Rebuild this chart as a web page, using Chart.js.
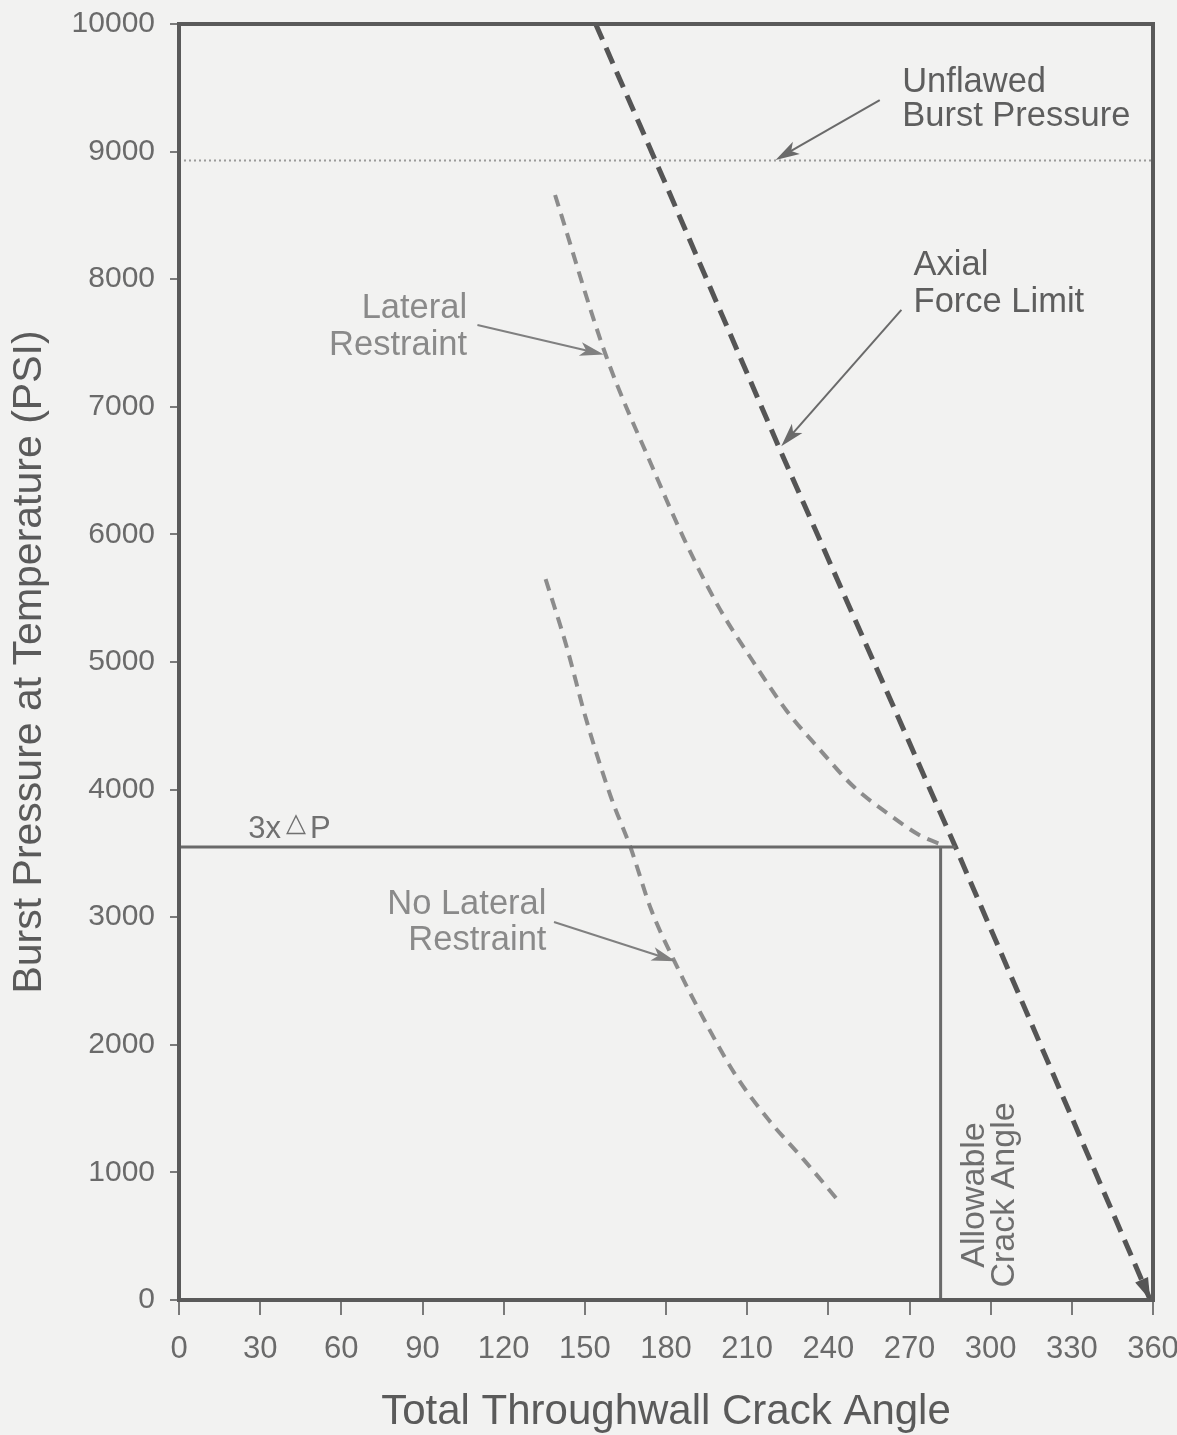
<!DOCTYPE html>
<html>
<head>
<meta charset="utf-8">
<script src="https://cdn.jsdelivr.net/npm/chart.js@4.4.0/dist/chart.umd.min.js"></script>
<style>
html,body{margin:0;padding:0;background:#f2f2f1;}
#wrap{width:1177px;height:1435px;}
canvas{display:block;}
</style>
</head>
<body>
<div id="wrap"><canvas id="c" width="1177" height="1435"></canvas></div>
<script>
// ---- data ----
const xTicks = [0, 30, 60, 90, 120, 150, 180, 210, 240, 270, 300, 330, 360];
const yTicks = [0, 1000, 2000, 3000, 4000, 5000, 6000, 7000, 8000, 9000, 10000];

const axialAngle    = [154, 180, 222, 287, 359];
const axialPressure = [10000, 8740, 6670, 3550, 0];

const lateralAngle    = [139, 158, 174.5, 187, 199.5, 212, 224.5, 237, 249, 261.5, 274, 283];
const lateralPressure = [8660, 7390, 6550, 5950, 5430, 5010, 4620, 4310, 4030, 3820, 3640, 3560];

const noLateralAngle    = [135.5, 143, 150.5, 159.5, 167, 174.5, 183, 193, 205.5, 218, 230.5, 244];
const noLateralPressure = [5650, 5140, 4550, 3950, 3540, 3060, 2660, 2240, 1770, 1410, 1110, 770];

const unflawedAngle    = [0, 360];
const unflawedPressure = [8930, 8930];

const deltaPAngle    = [0, 287];
const deltaPPressure = [3550, 3550];

const allowAngle    = [281.5, 281.5];
const allowPressure = [0, 3550];

const pts = (xs, ys) => xs.map((v, i) => ({x: v, y: ys[i]}));

const FONT = '"Liberation Sans", Arial, Helvetica, sans-serif';

// annotation texts and arrows (placed in data units)
const notes = [
  {lines: ['Unflawed', 'Burst Pressure'], x: 267.3, y: [9467, 9201], align: 'left', color: '#5e5e5e'},
  {lines: ['Axial', 'Force Limit'], x: 271.5, y: [8033, 7743], align: 'left', color: '#5e5e5e'},
  {lines: ['Lateral', 'Restraint'], x: 106.5, y: [7696, 7406], align: 'right', color: '#8a8a8a'},
  {lines: ['No Lateral', 'Restraint'], x: 135.8, y: [3025, 2743], align: 'right', color: '#8a8a8a'}
];
const arrows = [
  {from: [259, 9404], to: [220.5, 8935], color: '#6a6a6a'},
  {from: [267, 7759], to: [222.6, 6690], color: '#6a6a6a'},
  {from: [110.3, 7641], to: [157, 7410], color: '#808080'},
  {from: [138.6, 2962], to: [183.5, 2655], color: '#808080'}
];

function drawArrow(ctx, x1, y1, x2, y2, color) {
  const ang = Math.atan2(y2 - y1, x2 - x1);
  const L = 24, W = 7;
  ctx.strokeStyle = color; ctx.fillStyle = color; ctx.lineWidth = 2;
  ctx.beginPath(); ctx.moveTo(x1, y1);
  ctx.lineTo(x2 - Math.cos(ang) * L * 0.6, y2 - Math.sin(ang) * L * 0.6); ctx.stroke();
  ctx.beginPath();
  ctx.moveTo(x2, y2);
  ctx.lineTo(x2 - Math.cos(ang) * L + Math.sin(ang) * W, y2 - Math.sin(ang) * L - Math.cos(ang) * W);
  ctx.lineTo(x2 - Math.cos(ang) * L * 0.75, y2 - Math.sin(ang) * L * 0.75);
  ctx.lineTo(x2 - Math.cos(ang) * L - Math.sin(ang) * W, y2 - Math.sin(ang) * L + Math.cos(ang) * W);
  ctx.closePath(); ctx.fill();
}

const notesPlugin = {
  id: 'notes',
  afterDatasetsDraw(chart) {
    const {ctx, chartArea: a, scales: {x, y}} = chart;
    const X = v => x.getPixelForValue(v), Y = v => y.getPixelForValue(v);
    ctx.save();
    // frame
    ctx.strokeStyle = '#5a5a5a'; ctx.lineWidth = 4;
    ctx.strokeRect(a.left, a.top, a.right - a.left, a.bottom - a.top);

    // arrowhead at the end of the axial force line
    const n = axialAngle.length;
    const ex = X(axialAngle[n - 1]), ey = Y(axialPressure[n - 1]);
    const px = X(axialAngle[n - 2]), py = Y(axialPressure[n - 2]);
    const ang = Math.atan2(ey - py, ex - px);
    ctx.fillStyle = '#555';
    ctx.beginPath();
    ctx.moveTo(ex, ey);
    ctx.lineTo(ex - Math.cos(ang) * 22 + Math.sin(ang) * 7, ey - Math.sin(ang) * 22 - Math.cos(ang) * 7);
    ctx.lineTo(ex - Math.cos(ang) * 22 - Math.sin(ang) * 7, ey - Math.sin(ang) * 22 + Math.cos(ang) * 7);
    ctx.closePath(); ctx.fill();

    // arrows
    arrows.forEach(ar => drawArrow(ctx, X(ar.from[0]), Y(ar.from[1]), X(ar.to[0]), Y(ar.to[1]), ar.color));

    // texts
    ctx.font = '34.5px ' + FONT;
    ctx.textBaseline = 'alphabetic';
    notes.forEach(nt => {
      ctx.fillStyle = nt.color;
      ctx.textAlign = nt.align;
      nt.lines.forEach((t, i) => ctx.fillText(t, X(nt.x), Y(nt.y[i])));
    });

    // 3x delta P
    ctx.fillStyle = '#707070';
    ctx.textAlign = 'left';
    let tx = X(25.6); const ty = Y(3621);
    ctx.font = '31px ' + FONT;
    ctx.fillText('3x', tx, ty); tx += ctx.measureText('3x').width + 5;
    ctx.font = '26px ' + FONT;
    ctx.fillText('\u25B3', tx, ty - 7); tx += ctx.measureText('\u25B3').width + 4;
    ctx.font = '31px ' + FONT;
    ctx.fillText('P', tx, ty);

    // rotated "Allowable Crack Angle"
    ctx.fillStyle = '#6e6e6e';
    ctx.font = '34px ' + FONT;
    ctx.textAlign = 'center';
    [['Allowable', 297.5], ['Crack Angle', 308.8]].forEach(([t, ax]) => {
      ctx.save();
      ctx.translate(X(ax), Y(823));
      ctx.rotate(-Math.PI / 2);
      ctx.fillText(t, 0, 0);
      ctx.restore();
    });
    ctx.restore();
  }
};

const bgPlugin = {
  id: 'bg',
  beforeDraw(chart) {
    const c = chart.ctx;
    c.save(); c.fillStyle = '#f2f2f1'; c.fillRect(0, 0, chart.width, chart.height); c.restore();
  }
};

new Chart(document.getElementById('c'), {
  type: 'line',
  data: {
    datasets: [
      {data: pts(unflawedAngle, unflawedPressure), borderColor: '#9a9a9a', borderWidth: 2, borderDash: [2, 3]},
      {data: pts(deltaPAngle, deltaPPressure), borderColor: '#6a6a6a', borderWidth: 3},
      {data: pts(allowAngle, allowPressure), borderColor: '#6a6a6a', borderWidth: 3},
      {data: pts(noLateralAngle, noLateralPressure), borderColor: '#8c8c8c', borderWidth: 4, borderDash: [12, 8], cubicInterpolationMode: 'monotone'},
      {data: pts(lateralAngle, lateralPressure), borderColor: '#8c8c8c', borderWidth: 4, borderDash: [12, 8], cubicInterpolationMode: 'monotone'},
      {data: pts(axialAngle, axialPressure), borderColor: '#555555', borderWidth: 5, borderDash: [17, 9]}
    ]
  },
  options: {
    responsive: false,
    animation: false,
    devicePixelRatio: 1,
    layout: {padding: {left: 0, right: 24, top: 24, bottom: 0}},
    elements: {point: {radius: 0}, line: {fill: false, tension: 0}},
    plugins: {legend: {display: false}, tooltip: {enabled: false}},
    scales: {
      x: {
        type: 'linear', min: 0, max: 360,
        afterBuildTicks: s => { s.ticks = xTicks.map(v => ({value: v})); },
        afterFit: s => { s.height = 135; s.paddingLeft = 0; s.paddingRight = 0; },
        border: {display: false},
        grid: {drawOnChartArea: false, drawTicks: true, tickLength: 15, color: '#7a7a7a', lineWidth: 2},
        ticks: {padding: 16, color: '#6a6a6a', font: {size: 31, family: FONT}, maxRotation: 0, autoSkip: false,
                callback: v => String(v)},
        title: {display: true, text: 'Total Throughwall Crack Angle', color: '#5a5a5a',
                font: {size: 42, family: FONT, lineHeight: 1}, padding: {top: 0, bottom: 2}}
      },
      y: {
        type: 'linear', min: 0, max: 10000,
        afterBuildTicks: s => { s.ticks = yTicks.map(v => ({value: v})); },
        afterFit: s => { s.width = 179; s.paddingTop = 0; s.paddingBottom = 0; },
        border: {display: false},
        grid: {drawOnChartArea: false, drawTicks: true, tickLength: 9, color: '#7a7a7a', lineWidth: 2},
        ticks: {padding: 15, color: '#6a6a6a', font: {size: 30, family: FONT}, autoSkip: false,
                callback: v => String(v)},
        title: {display: true, text: 'Burst Pressure at Temperature (PSI)', color: '#5a5a5a',
                font: {size: 41, family: FONT, lineHeight: 1}, padding: {top: 9, bottom: 0}}
      }
    }
  },
  plugins: [bgPlugin, notesPlugin]
});
</script>
</body>
</html>
